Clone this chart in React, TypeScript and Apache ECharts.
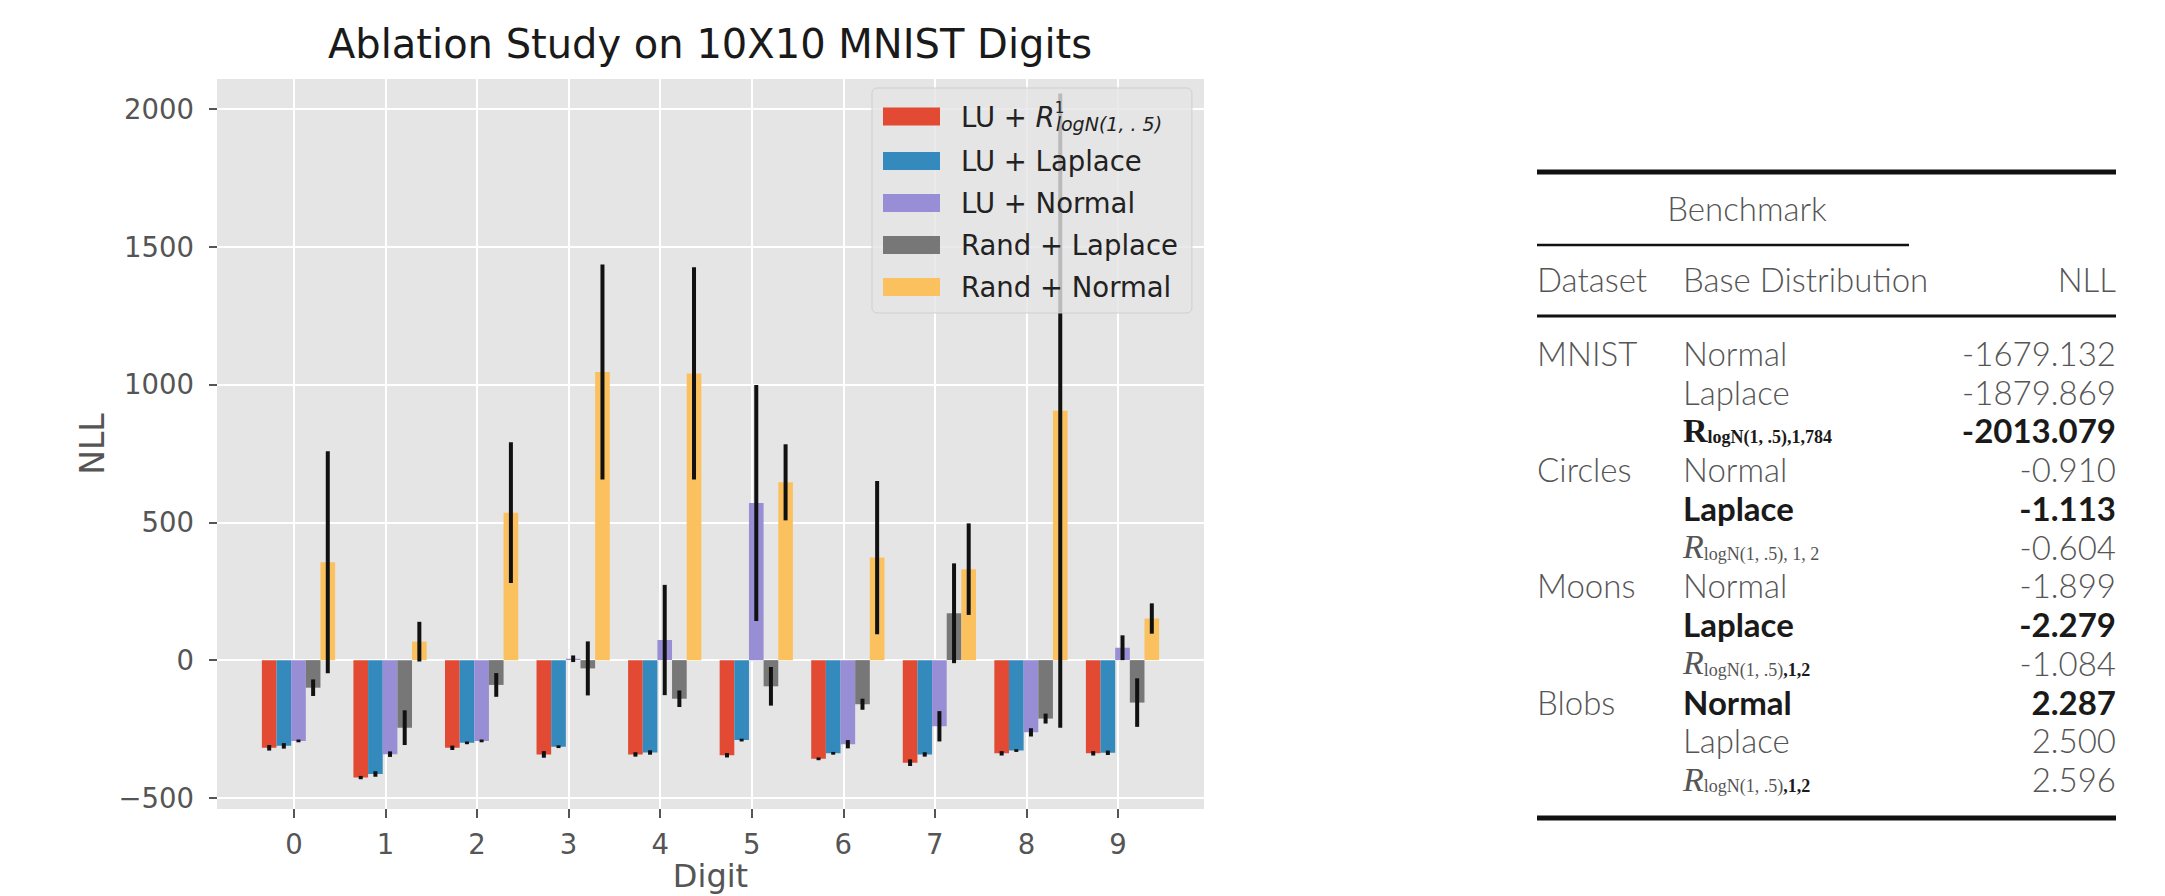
import React, { useEffect, useRef } from 'react';
import * as echarts from 'echarts';

// ---------- chart data ----------
const digits = ['0', '1', '2', '3', '4', '5', '6', '7', '8', '9'];
const seriesNames = ['LU + R_logN(1,.5)', 'LU + Laplace', 'LU + Normal', 'Rand + Laplace', 'Rand + Normal'];
const seriesColors = ['#E24A33', '#348ABD', '#988ED5', '#777777', '#FBC15E'];

const luRValues = [-318, -426, -318, -342, -342, -345, -358, -372, -338, -338];
const luRErr = [10, 6, 8, 12, 8, 8, 5, 12, 8, 8];
const luLaplaceValues = [-311, -413, -300, -314, -335, -290, -338, -342, -328, -336];
const luLaplaceErr = [10, 10, 5, 5, 8, 5, 5, 8, 5, 8];
const luNormalValues = [-293, -341, -293, 5, 73, 570, -305, -240, -262, 45];
const luNormalErr = [5, 10, 5, 12, 200, 428, 15, 55, 15, 45];
const randLaplaceValues = [-100, -245, -90, -30, -140, -95, -160, 170, -212, -154];
const randLaplaceErr = [30, 63, 43, 98, 30, 70, 20, 181, 18, 88];
const randNormalValues = [355, 67, 535, 1045, 1040, 645, 372, 330, 905, 151];
const randNormalErr = [403, 72, 255, 390, 385, 138, 278, 166, 1150, 55];

const seriesValues = [luRValues, luLaplaceValues, luNormalValues, randLaplaceValues, randNormalValues];
const seriesErrors = [luRErr, luLaplaceErr, luNormalErr, randLaplaceErr, randNormalErr];

const yTickValues = [-500, 0, 500, 1000, 1500, 2000];
const xTickValues = digits.map((_, i) => i);

// ---------- table data ----------
const tableDatasets = ['MNIST', '', '', 'Circles', '', '', 'Moons', '', '', 'Blobs', '', ''];
const tableDistributions = [
  'Normal', 'Laplace', '{Rb|R}{sb|logN(1, .5),1,784}',
  'Normal', 'Laplace', '{Ri|R}{s|logN(1, .5), 1, 2}',
  'Normal', 'Laplace', '{Ri|R}{s|logN(1, .5)}{sb|,1,2}',
  'Normal', 'Laplace', '{Ri|R}{s|logN(1, .5)}{sb|,1,2}',
];
const tableDistBold = [false, false, true, false, true, false, false, true, false, true, false, false];
const tableNLL = ['-1679.132', '-1879.869', '-2013.079', '-0.910', '-1.113', '-0.604', '-1.899', '-2.279', '-1.084', '2.287', '2.500', '2.596'];
const tableNLLBold = [false, false, true, false, true, false, false, true, false, true, false, false];

// ---------- styling ----------
const SANS = '"DejaVu Sans", sans-serif';
const LATO = 'Lato, "Noto Sans", sans-serif';
const SERIF = '"Liberation Serif", "DejaVu Serif", serif';
const BAR_W = 0.16;
const BAR_OFFSETS = [-0.27, -0.11, 0.05, 0.21, 0.37];
const TICK_FS = 27.5;

const T_LEFT = 1537;
const T_RIGHT = 2116;
const T_COL2 = 1683;
const ROW0 = 365;
const ROW_STEP = 38.75;
const T_FS = 33;
const LIGHT = '#555555';
const DARK = '#1a1a1a';

function makeRenderItem(offset: number) {
  return (_params: any, api: any) => {
    const x = api.value(0) + offset;
    const v = api.value(1);
    const e = api.value(2);
    const top = api.coord([x, v]);
    const base = api.coord([x, 0]);
    const hi = api.coord([x, v + e]);
    const lo = api.coord([x, v - e]);
    const w = api.size([BAR_W, 0])[0];
    return {
      type: 'group',
      children: [
        {
          type: 'rect',
          shape: { x: top[0] - w / 2, y: Math.min(top[1], base[1]), width: w, height: Math.abs(base[1] - top[1]) },
          style: { fill: api.visual('color') },
        },
        {
          type: 'line',
          shape: { x1: hi[0], y1: hi[1], x2: lo[0], y2: lo[1] },
          style: { stroke: '#111111', lineWidth: 4 },
        },
      ],
    };
  };
}

function textEl(text: string, x: number, baseline: number, align: string, bold: boolean, extra: any = {}) {
  return {
    type: 'text',
    x,
    y: baseline - 0.37 * T_FS,
    style: {
      text,
      fill: bold ? DARK : LIGHT,
      fontFamily: LATO,
      fontWeight: bold ? 'bold' : 300,
      fontSize: T_FS,
      textAlign: align,
      textVerticalAlign: 'middle',
      align,
      verticalAlign: 'middle',
      ...extra,
    },
  };
}

const richTable = {
  Rb: { fontFamily: SERIF, fontWeight: 'bold', fontSize: 34, lineHeight: 32, fill: DARK },
  Ri: { fontFamily: SERIF, fontStyle: 'italic', fontWeight: 'normal', fontSize: 34, lineHeight: 32, fill: LIGHT },
  s: { fontFamily: SERIF, fontWeight: 'normal', fontSize: 18, lineHeight: 13, verticalAlign: 'bottom', fill: LIGHT },
  sb: { fontFamily: SERIF, fontWeight: 'bold', fontSize: 18, lineHeight: 13, verticalAlign: 'bottom', fill: DARK },
};

function buildTable(): any[] {
  const els: any[] = [];
  const rule = (y: number, h: number, x2: number) => ({
    type: 'rect',
    shape: { x: T_LEFT, y: y - h / 2, width: x2 - T_LEFT, height: h },
    style: { fill: '#111111' },
  });
  els.push(rule(172, 5, T_RIGHT));
  els.push(rule(245, 2.5, 1909));
  els.push(rule(316, 3, T_RIGHT));
  els.push(rule(818, 5, T_RIGHT));
  els.push(textEl('Benchmark', 1747, 220, 'center', false));
  els.push(textEl('Dataset', T_LEFT, 291.7, 'left', false));
  els.push(textEl('Base Distribution', T_COL2, 291.7, 'left', false));
  els.push(textEl('NLL', T_RIGHT, 291.7, 'right', false));
  tableNLL.forEach((val, i) => {
    const baseline = ROW0 + ROW_STEP * i;
    if (tableDatasets[i]) els.push(textEl(tableDatasets[i], T_LEFT, baseline, 'left', false));
    const dist = tableDistributions[i];
    if (dist.startsWith('{')) {
      els.push(textEl(dist, T_COL2, baseline, 'left', tableDistBold[i], { rich: richTable }));
    } else {
      els.push(textEl(dist, T_COL2, baseline, 'left', tableDistBold[i]));
    }
    els.push(textEl(val, T_RIGHT, baseline, 'right', tableNLLBold[i]));
  });
  return els;
}

export default function App() {
  const ref = useRef<HTMLDivElement>(null);
  useEffect(() => {
    if (!ref.current) return;
    const chart = echarts.init(ref.current, undefined, { renderer: 'svg' });
    const option: any = {
      animation: false,
      backgroundColor: '#ffffff',
      title: {
        text: 'Ablation Study on 10X10 MNIST Digits',
        left: 710,
        top: 24,
        padding: 0,
        textAlign: 'center',
        textStyle: { fontFamily: SANS, fontSize: 40, fontWeight: 'normal', color: '#1a1a1a' },
      },
      grid: {
        left: 217, top: 79, width: 987, height: 730,
        show: true, backgroundColor: '#E5E5E5', borderWidth: 0, containLabel: false,
        outerBoundsMode: 'none',
      },
      legend: {
        orient: 'vertical',
        left: 872,
        top: 88,
        selectedMode: false,
        data: seriesNames.map((n) => ({ name: n, icon: 'rect' })),
        itemWidth: 57,
        itemHeight: 18,
        itemGap: 14,
        padding: [12, 14, 12, 11],
        backgroundColor: 'rgba(229,229,229,0.8)',
        borderColor: 'rgba(204,204,204,0.9)',
        borderWidth: 1,
        borderRadius: 5,
        formatter: (name: string) =>
          name === seriesNames[0] ? '{a|LU + }{r|R}{p|1}{b|logN(1, . 5)}' : name,
        textStyle: {
          fontFamily: SANS,
          fontSize: TICK_FS,
          color: '#222222',
          lineHeight: 27,
          padding: [0, 0, 0, 16],
          rich: {
            a: { fontFamily: SANS, fontSize: TICK_FS, lineHeight: 33, color: '#222222' },
            r: { fontFamily: SANS, fontSize: TICK_FS, fontStyle: 'italic', lineHeight: 33, color: '#222222' },
            p: { fontFamily: SANS, fontSize: 15, lineHeight: 16, verticalAlign: 'top', width: 1, color: '#222222' },
            b: { fontFamily: SANS, fontSize: 19, fontStyle: 'italic', lineHeight: 12, verticalAlign: 'bottom', color: '#222222' },
          },
        },
      },
      xAxis: {
        type: 'value',
        min: -0.84,
        max: 9.94,
        name: 'Digit',
        nameLocation: 'middle',
        nameGap: 51,
        nameMoveOverlap: false,
        nameTextStyle: { fontFamily: SANS, fontSize: 32, color: '#555555' },
        axisLine: { show: false, onZero: false },
        axisTick: { show: true, customValues: xTickValues, length: 9, lineStyle: { color: '#555555', width: 2 } },
        axisLabel: {
          customValues: xTickValues,
          formatter: (v: number) => digits[Math.round(v)] ?? '',
          margin: 21,
          fontFamily: SANS,
          fontSize: TICK_FS,
          color: '#555555',
        },
        splitLine: { show: true, lineStyle: { color: '#ffffff', width: 2 } },
      },
      yAxis: {
        type: 'value',
        min: -540,
        max: 2108,
        name: 'NLL',
        nameLocation: 'middle',
        nameGap: 108,
        nameMoveOverlap: false,
        nameRotate: 90,
        nameTextStyle: { fontFamily: SANS, fontSize: 33, color: '#555555' },
        axisLine: { show: false, onZero: false },
        axisTick: { show: true, customValues: yTickValues, length: 8, lineStyle: { color: '#555555', width: 2 } },
        axisLabel: {
          customValues: yTickValues,
          formatter: (v: number) => (v < 0 ? '\u2212' + Math.abs(v) : String(v)),
          margin: 23,
          fontFamily: SANS,
          fontSize: TICK_FS,
          color: '#555555',
        },
        splitLine: { show: true, lineStyle: { color: '#ffffff', width: 2 } },
      },
      series: seriesNames.map((name, s) => ({
        type: 'custom',
        name,
        itemStyle: { color: seriesColors[s] },
        encode: { x: 0, y: 1 },
        renderItem: makeRenderItem(BAR_OFFSETS[s]),
        data: digits.map((_, i) => [i, seriesValues[s][i], seriesErrors[s][i]]),
        z: 2,
      })),
      graphic: buildTable(),
    };
    chart.setOption(option);
    return () => chart.dispose();
  }, []);
  return (
    <div
      ref={ref}
      style={{ position: 'absolute', left: 0, top: 0, width: 2165, height: 896, background: '#fff' }}
    />
  );
}
